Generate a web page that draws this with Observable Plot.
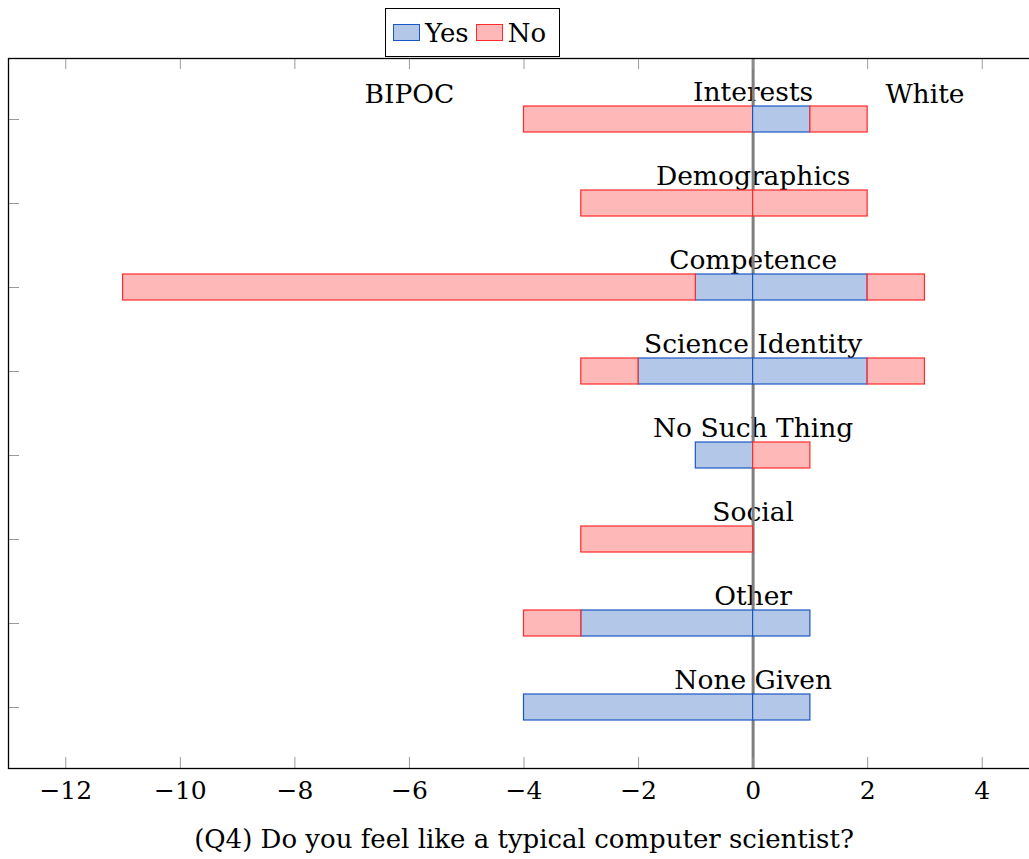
<!DOCTYPE html>
<html>
<head>
<meta charset="utf-8">
<script src="https://cdn.jsdelivr.net/npm/d3@7"></script>
<script src="https://cdn.jsdelivr.net/npm/@observablehq/plot@0.6"></script>
<style>
  html, body { margin: 0; padding: 0; background: #fff; overflow: hidden; }
  #chart { position: relative; width: 1029px; height: 859px; overflow: hidden; font-family: "DejaVu Serif", serif; }
  #chart svg { position: absolute; left: 0; top: 0; max-width: none !important; }
  #legend {
    position: absolute; left: 385px; top: 8px; width: 173px; height: 47px;
    border: 1px solid #000; background: #fff; display: flex; align-items: center;
    box-sizing: content-box; font-size: 26px; color: #000; z-index: 2;
  }
  #legend .item { display: flex; align-items: center; }
  #legend .swatch { width: 25px; height: 15px; margin-left: 7px; margin-right: 5px; }
</style>
</head>
<body>
<div id="chart"></div>
<script>
// Reasons given, top to bottom
const categories = ["Interests", "Demographics", "Competence", "Science Identity",
                    "No Such Thing", "Social", "Other", "None Given"];
const answers = ["Yes", "No"];

// BIPOC counts are drawn to the left of zero (negative), White counts to the right
const bipocYes = [0, 0, -1, -2, -1, 0, -3, -4];
const bipocNo  = [-4, -3, -10, -1, 0, -3, -1, 0];
const whiteYes = [1, 0, 2, 2, 0, 0, 1, 1];
const whiteNo  = [1, 2, 1, 1, 1, 0, 0, 0];

const groupLabels = ["BIPOC", "White"];
const groupLabelX = [-6, 3];
const xTicks = [-12, -10, -8, -6, -4, -2, 0, 2, 4];
const xLabel = "(Q4) Do you feel like a typical computer scientist?";

const fills   = {Yes: "#b3c8e8", No: "#ffb8b8"};
const strokes = {Yes: "#1b57c2", No: "#ff2a2a"};

// Long table: one row per non-empty bar segment, in stacking order
const rows = [];
categories.forEach((c, i) => {
  [["Yes", bipocYes[i]], ["No", bipocNo[i]], ["Yes", whiteYes[i]], ["No", whiteNo[i]]]
    .forEach(([answer, value]) => { if (value !== 0) rows.push({category: c, answer, value}); });
});

const W = 1040, H = 859;
const mL = 8, mR = 1, mT = 58, mB = 91;
const frameW = W - mL - mR, frameH = H - mT - mB;
const tickLen = 11;

const fmt = d => d < 0 ? "\u2212" + Math.abs(d) : String(d);

const plot = Plot.plot({
  width: W, height: H,
  marginLeft: mL, marginRight: mR, marginTop: mT, marginBottom: mB,
  style: {fontFamily: "DejaVu Serif, serif", fontSize: "26px", background: "white", color: "black",
          overflow: "visible", maxWidth: "none"},
  x: {domain: [-13, 5], axis: null, label: null},
  y: {domain: categories, axis: null, paddingInner: 0.6926, paddingOuter: 0.544, align: 0.5},
  color: {type: "identity"},
  marks: [
    // category names above each bar, centred on zero
    Plot.text(categories, {x: 0, y: d => d, text: d => d, lineAnchor: "bottom", dy: -19, fontSize: 26.5, fill: "black"}),
    // side headings
    Plot.text(groupLabels, {x: (d, i) => groupLabelX[i], y: () => categories[0], text: d => d,
                            lineAnchor: "bottom", dy: -17, fontSize: 26.5, fill: "black"}),
    // zero line
    Plot.ruleX([0], {stroke: "#7f7f7f", strokeWidth: 3}),
    // stacked bars
    Plot.barX(rows, Plot.stackX({
      y: "category", x: "value",
      fill: d => fills[d.answer], stroke: d => strokes[d.answer], strokeWidth: 1.2
    })),
    // inward tick marks: bottom, top, left
    Plot.ruleX(xTicks, {x: d => d, insetTop: frameH - tickLen, stroke: "#9a9a9a", strokeWidth: 1}),
    Plot.ruleX(xTicks, {x: d => d, insetBottom: frameH - tickLen, stroke: "#9a9a9a", strokeWidth: 1}),
    Plot.ruleY(categories, {y: d => d, insetRight: frameW - tickLen, stroke: "#9a9a9a", strokeWidth: 1}),
    // tick labels
    Plot.axisX(xTicks, {tickSize: 0, tickPadding: 13, tickFormat: fmt, fontSize: 25, fill: "black", label: null}),
    // axis title
    Plot.text([xLabel], {frameAnchor: "bottom", text: d => d, lineAnchor: "bottom", dy: 79, fontSize: 26, fill: "black"}),
    Plot.frame({stroke: "black", strokeWidth: 1.3})
  ]
});

const chart = document.getElementById("chart");
chart.appendChild(plot);

// legend
const legend = document.createElement("div");
legend.id = "legend";
answers.forEach(a => {
  const item = document.createElement("div");
  item.className = "item";
  const sw = document.createElement("span");
  sw.className = "swatch";
  sw.style.background = fills[a];
  sw.style.border = "1px solid " + strokes[a];
  const label = document.createElement("span");
  label.textContent = a;
  item.appendChild(sw);
  item.appendChild(label);
  legend.appendChild(item);
});
chart.appendChild(legend);
</script>
</body>
</html>
